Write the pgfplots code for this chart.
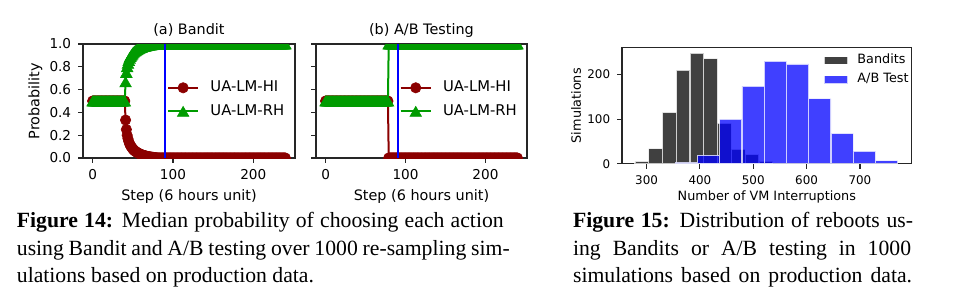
\documentclass[border=0pt]{standalone}
\usepackage{pgfplots}
\pgfplotsset{compat=1.18}
\usepackage{pgfplotstable}
\usepackage{fontspec}
\setmainfont{Liberation Serif}
\newfontfamily\dv{DejaVu Sans}
\definecolor{hired}{RGB}{139,0,0}
\definecolor{higreen}{RGB}{0,155,0}

\pgfplotstableread[row sep=\\]{
s hi rh\\
0 0.5 0.5\\ 1 0.5 0.5\\ 2 0.5 0.5\\ 3 0.5 0.5\\ 4 0.5 0.5\\ 5 0.5 0.5\\ 6 0.5 0.5\\ 7 0.5 0.5\\ 8 0.5 0.5\\ 9 0.5 0.5\\
10 0.5 0.5\\ 11 0.5 0.5\\ 12 0.5 0.5\\ 13 0.5 0.5\\ 14 0.5 0.5\\ 15 0.5 0.5\\ 16 0.5 0.5\\ 17 0.5 0.5\\ 18 0.5 0.5\\ 19 0.5 0.5\\
20 0.5 0.5\\ 21 0.5 0.5\\ 22 0.5 0.5\\ 23 0.5 0.5\\ 24 0.5 0.5\\ 25 0.5 0.5\\ 26 0.5 0.5\\ 27 0.5 0.5\\ 28 0.5 0.5\\ 29 0.5 0.5\\
30 0.5 0.5\\ 31 0.5 0.5\\ 32 0.5 0.5\\ 33 0.5 0.5\\ 34 0.5 0.5\\ 35 0.5 0.5\\ 36 0.5 0.5\\ 37 0.5 0.5\\ 38 0.5 0.5\\ 39 0.5 0.5\\
40 0.5 0.5\\ 41 0.333 0.667\\ 42 0.25 0.75\\ 43 0.2 0.8\\ 44 0.17 0.83\\ 45 0.145 0.855\\ 46 0.125 0.875\\ 47 0.11 0.89\\ 48 0.1 0.9\\ 49 0.09 0.91\\
50 0.08 0.92\\ 51 0.072 0.928\\ 52 0.065 0.935\\ 53 0.06 0.94\\ 54 0.055 0.945\\ 55 0.05 0.95\\ 56 0.046 0.954\\ 57 0.042 0.958\\ 58 0.038 0.962\\ 59 0.035 0.965\\
60 0.032 0.968\\ 61 0.029 0.971\\ 62 0.026 0.974\\ 63 0.024 0.976\\ 64 0.022 0.978\\ 65 0.02 0.98\\ 66 0.018 0.982\\ 67 0.016 0.984\\ 68 0.014 0.986\\ 69 0.012 0.988\\
70 0.011 0.989\\ 71 0.01 0.99\\ 72 0.009 0.991\\ 73 0.008 0.992\\ 74 0.007 0.993\\ 75 0.006 0.994\\ 76 0.005 0.995\\ 77 0.004 0.996\\ 78 0.003 0.997\\ 79 0.002 0.998\\
80 0.001 0.999\\ 81 0 1\\ 82 0 1\\ 83 0 1\\ 84 0 1\\ 85 0 1\\ 86 0 1\\ 87 0 1\\ 88 0 1\\ 89 0 1\\
90 0 1\\ 91 0 1\\ 92 0 1\\ 93 0 1\\ 94 0 1\\ 95 0 1\\ 96 0 1\\ 97 0 1\\ 98 0 1\\ 99 0 1\\
100 0 1\\ 101 0 1\\ 102 0 1\\ 103 0 1\\ 104 0 1\\ 105 0 1\\ 106 0 1\\ 107 0 1\\ 108 0 1\\ 109 0 1\\
110 0 1\\ 111 0 1\\ 112 0 1\\ 113 0 1\\ 114 0 1\\ 115 0 1\\ 116 0 1\\ 117 0 1\\ 118 0 1\\ 119 0 1\\
120 0 1\\ 121 0 1\\ 122 0 1\\ 123 0 1\\ 124 0 1\\ 125 0 1\\ 126 0 1\\ 127 0 1\\ 128 0 1\\ 129 0 1\\
130 0 1\\ 131 0 1\\ 132 0 1\\ 133 0 1\\ 134 0 1\\ 135 0 1\\ 136 0 1\\ 137 0 1\\ 138 0 1\\ 139 0 1\\
140 0 1\\ 141 0 1\\ 142 0 1\\ 143 0 1\\ 144 0 1\\ 145 0 1\\ 146 0 1\\ 147 0 1\\ 148 0 1\\ 149 0 1\\
150 0 1\\ 151 0 1\\ 152 0 1\\ 153 0 1\\ 154 0 1\\ 155 0 1\\ 156 0 1\\ 157 0 1\\ 158 0 1\\ 159 0 1\\
160 0 1\\ 161 0 1\\ 162 0 1\\ 163 0 1\\ 164 0 1\\ 165 0 1\\ 166 0 1\\ 167 0 1\\ 168 0 1\\ 169 0 1\\
170 0 1\\ 171 0 1\\ 172 0 1\\ 173 0 1\\ 174 0 1\\ 175 0 1\\ 176 0 1\\ 177 0 1\\ 178 0 1\\ 179 0 1\\
180 0 1\\ 181 0 1\\ 182 0 1\\ 183 0 1\\ 184 0 1\\ 185 0 1\\ 186 0 1\\ 187 0 1\\ 188 0 1\\ 189 0 1\\
190 0 1\\ 191 0 1\\ 192 0 1\\ 193 0 1\\ 194 0 1\\ 195 0 1\\ 196 0 1\\ 197 0 1\\ 198 0 1\\ 199 0 1\\
200 0 1\\ 201 0 1\\ 202 0 1\\ 203 0 1\\ 204 0 1\\ 205 0 1\\ 206 0 1\\ 207 0 1\\ 208 0 1\\ 209 0 1\\
210 0 1\\ 211 0 1\\ 212 0 1\\ 213 0 1\\ 214 0 1\\ 215 0 1\\ 216 0 1\\ 217 0 1\\ 218 0 1\\ 219 0 1\\
220 0 1\\ 221 0 1\\ 222 0 1\\ 223 0 1\\ 224 0 1\\ 225 0 1\\ 226 0 1\\ 227 0 1\\ 228 0 1\\ 229 0 1\\
230 0 1\\ 231 0 1\\ 232 0 1\\ 233 0 1\\ 234 0 1\\ 235 0 1\\ 236 0 1\\ 237 0 1\\ 238 0 1\\ 239 0 1\\
240 0 1\\
}\bandit

\pgfplotstableread[row sep=\\]{
s hi rh\\
0 0.5 0.5\\ 1 0.5 0.5\\ 2 0.5 0.5\\ 3 0.5 0.5\\ 4 0.5 0.5\\ 5 0.5 0.5\\ 6 0.5 0.5\\ 7 0.5 0.5\\ 8 0.5 0.5\\ 9 0.5 0.5\\
10 0.5 0.5\\ 11 0.5 0.5\\ 12 0.5 0.5\\ 13 0.5 0.5\\ 14 0.5 0.5\\ 15 0.5 0.5\\ 16 0.5 0.5\\ 17 0.5 0.5\\ 18 0.5 0.5\\ 19 0.5 0.5\\
20 0.5 0.5\\ 21 0.5 0.5\\ 22 0.5 0.5\\ 23 0.5 0.5\\ 24 0.5 0.5\\ 25 0.5 0.5\\ 26 0.5 0.5\\ 27 0.5 0.5\\ 28 0.5 0.5\\ 29 0.5 0.5\\
30 0.5 0.5\\ 31 0.5 0.5\\ 32 0.5 0.5\\ 33 0.5 0.5\\ 34 0.5 0.5\\ 35 0.5 0.5\\ 36 0.5 0.5\\ 37 0.5 0.5\\ 38 0.5 0.5\\ 39 0.5 0.5\\
40 0.5 0.5\\ 41 0.5 0.5\\ 42 0.5 0.5\\ 43 0.5 0.5\\ 44 0.5 0.5\\ 45 0.5 0.5\\ 46 0.5 0.5\\ 47 0.5 0.5\\ 48 0.5 0.5\\ 49 0.5 0.5\\
50 0.5 0.5\\ 51 0.5 0.5\\ 52 0.5 0.5\\ 53 0.5 0.5\\ 54 0.5 0.5\\ 55 0.5 0.5\\ 56 0.5 0.5\\ 57 0.5 0.5\\ 58 0.5 0.5\\ 59 0.5 0.5\\
60 0.5 0.5\\ 61 0.5 0.5\\ 62 0.5 0.5\\ 63 0.5 0.5\\ 64 0.5 0.5\\ 65 0.5 0.5\\ 66 0.5 0.5\\ 67 0.5 0.5\\ 68 0.5 0.5\\ 69 0.5 0.5\\
70 0.5 0.5\\ 71 0.5 0.5\\ 72 0.5 0.5\\ 73 0.5 0.5\\ 74 0.5 0.5\\ 75 0.5 0.5\\ 76 0.5 0.5\\ 77 0.5 0.5\\ 78 0.5 0.5\\ 79 0 1\\
80 0 1\\ 81 0 1\\ 82 0 1\\ 83 0 1\\ 84 0 1\\ 85 0 1\\ 86 0 1\\ 87 0 1\\ 88 0 1\\ 89 0 1\\
90 0 1\\ 91 0 1\\ 92 0 1\\ 93 0 1\\ 94 0 1\\ 95 0 1\\ 96 0 1\\ 97 0 1\\ 98 0 1\\ 99 0 1\\
100 0 1\\ 101 0 1\\ 102 0 1\\ 103 0 1\\ 104 0 1\\ 105 0 1\\ 106 0 1\\ 107 0 1\\ 108 0 1\\ 109 0 1\\
110 0 1\\ 111 0 1\\ 112 0 1\\ 113 0 1\\ 114 0 1\\ 115 0 1\\ 116 0 1\\ 117 0 1\\ 118 0 1\\ 119 0 1\\
120 0 1\\ 121 0 1\\ 122 0 1\\ 123 0 1\\ 124 0 1\\ 125 0 1\\ 126 0 1\\ 127 0 1\\ 128 0 1\\ 129 0 1\\
130 0 1\\ 131 0 1\\ 132 0 1\\ 133 0 1\\ 134 0 1\\ 135 0 1\\ 136 0 1\\ 137 0 1\\ 138 0 1\\ 139 0 1\\
140 0 1\\ 141 0 1\\ 142 0 1\\ 143 0 1\\ 144 0 1\\ 145 0 1\\ 146 0 1\\ 147 0 1\\ 148 0 1\\ 149 0 1\\
150 0 1\\ 151 0 1\\ 152 0 1\\ 153 0 1\\ 154 0 1\\ 155 0 1\\ 156 0 1\\ 157 0 1\\ 158 0 1\\ 159 0 1\\
160 0 1\\ 161 0 1\\ 162 0 1\\ 163 0 1\\ 164 0 1\\ 165 0 1\\ 166 0 1\\ 167 0 1\\ 168 0 1\\ 169 0 1\\
170 0 1\\ 171 0 1\\ 172 0 1\\ 173 0 1\\ 174 0 1\\ 175 0 1\\ 176 0 1\\ 177 0 1\\ 178 0 1\\ 179 0 1\\
180 0 1\\ 181 0 1\\ 182 0 1\\ 183 0 1\\ 184 0 1\\ 185 0 1\\ 186 0 1\\ 187 0 1\\ 188 0 1\\ 189 0 1\\
190 0 1\\ 191 0 1\\ 192 0 1\\ 193 0 1\\ 194 0 1\\ 195 0 1\\ 196 0 1\\ 197 0 1\\ 198 0 1\\ 199 0 1\\
200 0 1\\ 201 0 1\\ 202 0 1\\ 203 0 1\\ 204 0 1\\ 205 0 1\\ 206 0 1\\ 207 0 1\\ 208 0 1\\ 209 0 1\\
210 0 1\\ 211 0 1\\ 212 0 1\\ 213 0 1\\ 214 0 1\\ 215 0 1\\ 216 0 1\\ 217 0 1\\ 218 0 1\\ 219 0 1\\
220 0 1\\ 221 0 1\\ 222 0 1\\ 223 0 1\\ 224 0 1\\ 225 0 1\\ 226 0 1\\ 227 0 1\\ 228 0 1\\ 229 0 1\\
230 0 1\\ 231 0 1\\ 232 0 1\\ 233 0 1\\ 234 0 1\\ 235 0 1\\ 236 0 1\\ 237 0 1\\ 238 0 1\\ 239 0 1\\
240 0 1\\
}\abtest

\pgfplotsset{
  common/.style={
    scale only axis, anchor=south west,
    tick align=outside, tick pos=left,
    major tick length=2.4pt,
    axis line style={line width=0.6pt, black!85},
    every tick/.style={line width=0.6pt, black!85},
    /pgf/number format/assume math mode=true,
    clip marker paths=true,
  },
  panel/.style={
    common,
    width=106pt, height=57pt,
    xmin=-12, xmax=252, ymin=0, ymax=1,
    xtick={0,100,200}, ytick={0,0.2,0.4,0.6,0.8,1},
    tick label style={font=\dv\fontsize{6.8}{8}\selectfont},
    yticklabel style={/pgf/number format/.cd, fixed, fixed zerofill, precision=1},
    every axis title/.style={font=\dv\fontsize{7.2}{8.5}\selectfont, at={(rel axis cs:0.5,1)}, anchor=base, yshift=5pt},
    every axis x label/.style={font=\dv\fontsize{7.2}{8.5}\selectfont, at={(rel axis cs:0.5,0)}, anchor=base, yshift=-21pt},
    every axis y label/.style={font=\dv\fontsize{7.2}{8.5}\selectfont, at={(rel axis cs:0,0.5)}, xshift=-23.75pt, rotate=90, anchor=center},
    legend cell align=left,
    legend style={draw=none, fill=none, at={(rel axis cs:0.395,0.512)}, anchor=west,
      inner sep=0pt, row sep=2.95pt, font=\dv\fontsize{7.4}{8}\selectfont,
      nodes={inner sep=1pt},
      /tikz/every odd column/.append style={column sep=4.65pt}},
    legend image code/.code={\draw[mark repeat=2,mark phase=2,##1] plot coordinates {(0pt,0pt) (7.5pt,0pt) (15pt,0pt)};},
  },
  hiline/.style={color=hired, line width=1pt, mark=*, mark size=2.6pt, mark options={line width=0.3pt, fill=hired, draw=hired}},
  rhline/.style={color=higreen, line width=1pt, mark=triangle*, mark size=3.35pt, mark options={line width=0.3pt, fill=higreen, draw=higreen, yshift=-0.8pt}},
  blackleg/.style={legend image code/.code={\draw[fill=black,draw=white,opacity=0.75,line width=0.5pt] (0pt,-1.9pt) rectangle (11.7pt,1.9pt);}},
  blueleg/.style={legend image code/.code={\draw[fill=blue,draw=white,opacity=0.75,line width=0.5pt] (0pt,-1.9pt) rectangle (11.7pt,1.9pt);}},
}

\begin{document}
\begin{tikzpicture}
\useasboundingbox (0,0) rectangle (479.5pt,148.5pt);

% (a) Bandit
\begin{axis}[panel, at={(41.5pt,69.5pt)}, title={(a) Bandit}, xlabel={Step (6 hours unit)}, ylabel={Probability}]
\addplot[hiline] table[x=s, y=hi] {\bandit};
\addplot[rhline] table[x=s, y=rh] {\bandit};
\addplot[blue, line width=1pt, forget plot] coordinates {(90,0) (90,1)};
\legend{UA-LM-HI, UA-LM-RH}
\end{axis}

% (b) A/B Testing
\begin{axis}[panel, at={(158pt,69.5pt)}, width=105.5pt, title={(b) A/B Testing}, xlabel={Step (6 hours unit)}, yticklabels={,,,,,,}]
\addplot[hiline] table[x=s, y=hi] {\abtest};
\addplot[rhline] table[x=s, y=rh] {\abtest};
\addplot[blue, line width=1pt, forget plot] coordinates {(90,0) (90,1)};
\legend{UA-LM-HI, UA-LM-RH}
\end{axis}

% Histogram
\begin{axis}[common, at={(311pt,66.65pt)}, width=144.85pt, height=58pt,
  xmin=254, xmax=797, ymin=0, ymax=260.4,
  xtick={300,400,500,600,700}, ytick={0,100,200},
  tick label style={font=\dv\fontsize{5.95}{7}\selectfont},
  xlabel={Number of VM Interruptions}, ylabel={Simulations},
  every axis x label/.style={font=\dv\fontsize{6.4}{7.5}\selectfont, at={(rel axis cs:0.5,0)}, anchor=base, yshift=-18.15pt},
  every axis y label/.style={font=\dv\fontsize{6.4}{7.5}\selectfont, at={(rel axis cs:0,0.5)}, xshift=-23pt, rotate=90, anchor=center},
  legend cell align=left,
  legend style={draw=none, fill=none, at={(rel axis cs:0.695,0.808)}, anchor=west,
    inner sep=0pt, row sep=1.4pt,
    nodes={inner sep=1pt, font=\dv\fontsize{6.4}{7.5}\selectfont},
    /tikz/every odd column/.append style={column sep=3.65pt}},
]
\addplot[ybar interval, fill=black, draw=white, opacity=0.75, line width=0.6pt, blackleg] coordinates {
(278.2,5) (304.0,34) (329.8,115) (355.7,210) (381.5,248) (407.3,236) (433.1,91) (458.9,33) (484.8,21) (510.6,6) (536.4,6)};
\addlegendentry{Bandits}
\addplot[ybar interval, fill=blue, draw=white, opacity=0.75, line width=0.6pt, blueleg] coordinates {
(353.7,3) (395.4,19) (437.2,100) (478.9,174) (520.6,230) (562.4,224) (604.1,146) (645.8,68) (687.5,28) (729.3,7) (771.0,7)};
\addlegendentry{A/B Test}
\end{axis}

% Captions
\begin{scope}[every node/.style={anchor=base west, inner sep=0pt, font=\fontsize{10.85}{12}\selectfont}]
\node at (8.25pt,34.75pt) {\makebox[243.4pt][s]{\textbf{Figure 14:} Median probability of choosing each action}};
\node at (8.25pt,20.9pt) {\makebox[246.4pt][s]{using Bandit and A/B testing over 1000 re-sampling sim-}};
\node at (8.25pt,7.05pt) {ulations based on production data.};
\node at (286.35pt,34.75pt) {\makebox[170pt][s]{\textbf{Figure 15:} Distribution of reboots us-}};
\node at (286.35pt,20.9pt) {\makebox[169pt][s]{ing Bandits or A/B testing in 1000}};
\node at (286.35pt,7.05pt) {\makebox[169.5pt][s]{simulations based on production data.}};
\end{scope}
\end{tikzpicture}
\end{document}
